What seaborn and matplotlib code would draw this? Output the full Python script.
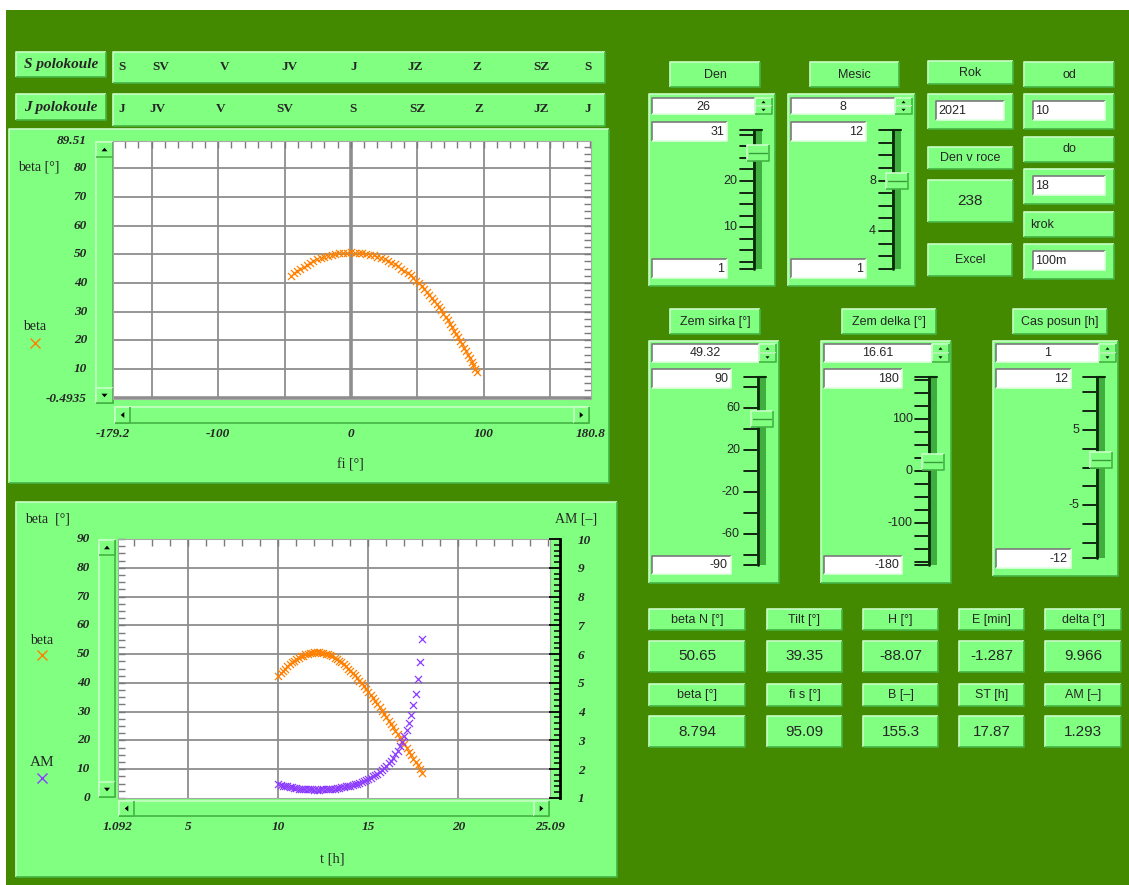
import numpy as np
import pandas as pd
import matplotlib
matplotlib.use("Agg")
import matplotlib.pyplot as plt
import seaborn as sns
from matplotlib.patches import Rectangle, Polygon
from matplotlib.ticker import MultipleLocator
from matplotlib.transforms import blended_transform_factory as blend

# ---- sun path values -----------------------------------------------------
t_h = [10.0, 10.125, 10.25, 10.375, 10.5, 10.625, 10.75, 10.875, 11.0, 11.125, 11.25, 11.375, 11.5,
       11.625, 11.75, 11.875, 12.0, 12.125, 12.25, 12.375, 12.5, 12.625, 12.75, 12.875, 13.0, 13.125,
       13.25, 13.375, 13.5, 13.625, 13.75, 13.875, 14.0, 14.125, 14.25, 14.375, 14.5, 14.625, 14.75,
       14.875, 15.0, 15.125, 15.25, 15.375, 15.5, 15.625, 15.75, 15.875, 16.0, 16.125, 16.25, 16.375,
       16.5, 16.625, 16.75, 16.875, 17.0, 17.125, 17.25, 17.375, 17.5, 17.625, 17.75, 17.875, 18.0]
beta_deg = [42.5, 43.4, 44.2, 45.0, 45.7, 46.4, 47.1, 47.7, 48.2, 48.7, 49.2, 49.5, 49.9,
            50.2, 50.4, 50.5, 50.6, 50.65, 50.6, 50.55, 50.4, 50.2, 49.9, 49.6, 49.2, 48.7,
            48.2, 47.7, 47.1, 46.5, 45.8, 45.0, 44.3, 43.5, 42.6, 41.7, 40.8, 39.9, 38.9,
            37.9, 36.9, 35.9, 34.8, 33.7, 32.6, 31.5, 30.4, 29.3, 28.1, 26.9, 25.8, 24.6,
            23.4, 22.2, 21.0, 19.8, 18.6, 17.4, 16.1, 14.9, 13.7, 12.5, 11.3, 10.0, 8.8]
fi_deg = [-45.0, -42.8, -40.5, -38.1, -35.7, -33.3, -30.7, -28.2, -25.5, -22.8, -20.1, -17.4, -14.6,
          -11.7, -8.8, -6.0, -3.1, -0.1, 2.9, 5.7, 8.6, 11.5, 14.3, 17.1, 19.9, 22.6,
          25.3, 28.0, 30.5, 33.1, 35.5, 38.0, 40.3, 42.6, 44.9, 47.0, 49.2, 51.3, 53.3,
          55.3, 57.2, 59.1, 61.0, 62.8, 64.6, 66.3, 68.0, 69.7, 71.3, 73.0, 74.5, 76.1,
          77.7, 79.2, 80.7, 82.2, 83.7, 85.1, 86.6, 88.0, 89.4, 90.9, 92.3, 93.7, 95.1]
air_mass = [1.48, 1.46, 1.43, 1.42, 1.40, 1.38, 1.37, 1.35, 1.34, 1.33, 1.32, 1.31, 1.31,
            1.30, 1.30, 1.30, 1.29, 1.29, 1.29, 1.30, 1.30, 1.30, 1.31, 1.31, 1.32, 1.33,
            1.34, 1.35, 1.37, 1.38, 1.40, 1.41, 1.43, 1.45, 1.48, 1.50, 1.53, 1.56, 1.59,
            1.63, 1.67, 1.71, 1.75, 1.80, 1.85, 1.91, 1.98, 2.05, 2.12, 2.21, 2.30, 2.40,
            2.52, 2.65, 2.79, 2.95, 3.14, 3.35, 3.60, 3.89, 4.23, 4.63, 5.13, 5.74, 6.53]

# axis tick labels
fi_ticks = [-179.2, -100, 0, 100, 180.8]
beta_ticks_top = [89.51, 80, 70, 60, 50, 40, 30, 20, 10, -0.4935]
t_ticks = [1.092, 5, 10, 15, 20, 25.09]
beta_ticks_bot = [0, 10, 20, 30, 40, 50, 60, 70, 80, 90]
am_ticks = [1, 2, 3, 4, 5, 6, 7, 8, 9, 10]

compass_north = ["S", "SV", "V", "JV", "J", "JZ", "Z", "SZ", "S"]
compass_south = ["J", "JV", "V", "SV", "S", "SZ", "Z", "JZ", "J"]

# readouts
readout_names_1 = ["beta N [°]", "Tilt [°]", "H [°]", "E [min]", "delta [°]"]
readout_vals_1 = ["50.65", "39.35", "-88.07", "-1.287", "9.966"]
readout_names_2 = ["beta [°]", "fi s [°]", "B [–]", "ST [h]", "AM [–]"]
readout_vals_2 = ["8.794", "95.09", "155.3", "17.87", "1.293"]

# input widgets
day, month, year = 26, 8, 2021
day_of_year = 238
t_from, t_to, t_step = "10", "18", "100m"
lat, lon, shift = 49.32, 16.61, 1

df = pd.DataFrame({"t": t_h, "beta": beta_deg, "fi": fi_deg, "AM": air_mass})

#---- look ------------------------------------------------------------------
sns.set_style("white")
SERIF = ["Liberation Serif", "DejaVu Serif"]
SANS = ["Liberation Sans", "DejaVu Sans"]
plt.rcParams["font.family"] = SANS

W, H = 1129, 885
DARK = "#448a00"
LIGHT = "#80ff80"
HI = "#c8ffc8"
SH = "#44b444"
ORANGE = "#ff8000"
PURPLE = "#8c3cff"
GRID = "#8e8e8e"
TICKFONT = dict(family=SERIF, style="italic", weight="bold", fontsize=9.5)
MK = dict(marker="x", s=26, linewidth=0.9, zorder=3)

fig = plt.figure(figsize=(W / 100, H / 100), dpi=100, facecolor="white")
bg = fig.add_axes([0, 0, 1, 1])
bg.set_xlim(0, W)
bg.set_ylim(H, 0)
bg.axis("off")


def px_axes(x0, y0, x1, y1):
    return fig.add_axes([x0 / W, 1 - y1 / H, (x1 - x0) / W, (y1 - y0) / H])


def bevel(x0, y0, x1, y1, light, dark, lw=1.2, z=2):
    bg.plot([x0, x0, x1], [y1, y0, y0], color=light, lw=lw, zorder=z, solid_capstyle="butt")
    bg.plot([x0, x1, x1], [y1, y1, y0], color=dark, lw=lw, zorder=z, solid_capstyle="butt")


def box(x0, y0, x1, y1, fc=LIGHT, z=1):
    bg.add_patch(Rectangle((x0, y0), x1 - x0, y1 - y0, fc=fc, ec="none", zorder=z))
    bevel(x0, y0, x1, y1, HI, SH, z=z + 0.1)


def label(x0, y0, x1, y1, s, size=9, ha="center", z=1):
    box(x0, y0, x1, y1, z=z)
    tx = {"center": (x0 + x1) / 2, "left": x0 + 6}[ha]
    bg.text(tx, (y0 + y1) / 2, s, ha=ha, va="center", fontsize=size, family=SANS, zorder=z + 0.2)


def field(x0, y0, x1, y1, s, ha="right", size=9, z=3):
    bg.add_patch(Rectangle((x0, y0), x1 - x0, y1 - y0, fc="white", ec="none", zorder=z))
    bevel(x0, y0, x1, y1, "#7a7a7a", "#e0ffe0", z=z + 0.1)
    tx = {"right": x1 - 3, "left": x0 + 2, "center": (x0 + x1) / 2}[ha]
    bg.text(tx, (y0 + y1) / 2 + 0.5, s, ha=ha, va="center", fontsize=size, family=SANS, zorder=z + 0.2)


def tri(cx, cy, d, r=3, z=5):
    pts = {"up": [[cx - r, cy + r * 0.6], [cx + r, cy + r * 0.6], [cx, cy - r * 0.6]],
           "down": [[cx - r, cy - r * 0.6], [cx + r, cy - r * 0.6], [cx, cy + r * 0.6]],
           "left": [[cx + r * 0.6, cy - r], [cx + r * 0.6, cy + r], [cx - r * 0.6, cy]],
           "right": [[cx - r * 0.6, cy - r], [cx - r * 0.6, cy + r], [cx + r * 0.6, cy]]}[d]
    bg.add_patch(Polygon(pts, closed=True, fc="black", ec="none", zorder=z))


def spin(x0, y0, x1, y1, s):
    field(x0, y0, x1, y1, s, ha="center")
    ym = (y0 + y1) / 2
    box(x1, y0, x1 + 17, ym, z=3)
    box(x1, ym, x1 + 17, y1, z=3)
    tri(x1 + 8.5, (y0 + ym) / 2, "up", r=2)
    tri(x1 + 8.5, (ym + y1) / 2, "down", r=2)


def slider(tx0, ytop, ybot, vmin, vmax, value, ticks, labels, lab_x):
    def ypos(v):
        return ybot - (v - vmin) / (vmax - vmin) * (ybot - ytop)
    bg.add_patch(Rectangle((tx0, ytop), 9, ybot - ytop, fc="#3fae3f", ec="none", zorder=3))
    bg.plot([tx0 + 1, tx0 + 1], [ytop, ybot], color="#0a2a0a", lw=2, zorder=3.1)
    bg.plot([tx0, tx0 + 9], [ytop, ytop], color="#0a2a0a", lw=1.5, zorder=3.1)
    for v in ticks:
        bg.plot([tx0 - 13, tx0], [ypos(v), ypos(v)], color="black", lw=1.2, zorder=3)
    for v in labels:
        bg.text(lab_x, ypos(v), f"{v:g}", ha="right", va="center", fontsize=9, family=SANS, zorder=3)
    yv = ypos(value)
    box(tx0 - 6, yv - 8, tx0 + 16, yv + 8, z=4)
    bg.plot([tx0 - 4, tx0 + 14], [yv, yv], color="#3c9c3c", lw=1, zorder=4.3)


def vscroll(x0, y0, x1, y1):
    box(x0, y0, x1, y1, z=2)
    box(x0, y0, x1, y0 + 15, z=3)
    box(x0, y1 - 15, x1, y1, z=3)
    tri((x0 + x1) / 2, y0 + 7.5, "up")
    tri((x0 + x1) / 2, y1 - 7.5, "down")


def hscroll(x0, y0, x1, y1):
    box(x0, y0, x1, y1, z=2)
    box(x0, y0, x0 + 15, y1, z=3)
    box(x1 - 15, y0, x1, y1, z=3)
    tri(x0 + 7.5, (y0 + y1) / 2, "left")
    tri(x1 - 7.5, (y0 + y1) / 2, "right")


# background
bg.add_patch(Rectangle((6, 10), W - 6, H - 10, fc=DARK, ec="none", zorder=0))

#---- compass strips ----------------------------------------------------------
compass_x_n = [122, 161, 225, 289, 354, 415, 477, 541, 588]
compass_x_s = [122, 157, 221, 285, 353, 417, 479, 541, 588]
for y0, y1, title, names, xs in [(52, 80, "S polokoule", compass_north, compass_x_n),
                                  (94, 123, "J polokoule", compass_south, compass_x_s)]:
    box(16, y0, 106, y1 - 3)
    bg.text(61, (y0 + y1 - 3) / 2, title, ha="center", va="center", family=SERIF,
            style="italic", weight="bold", fontsize=11, zorder=2)
    box(113, y0, 605, y1 + 3)
    for x, s in zip(xs, names):
        bg.text(x, (y0 + y1) / 2 + 1, s, ha="center", va="center", family=SERIF,
                weight="bold", fontsize=9.5, zorder=2)

#---- top chart: beta vs fi ---------------------------------------------------
box(9, 129, 609, 483)
vscroll(96, 142, 113, 403)
hscroll(115, 407, 589, 423)
bg.text(18, 167, "beta [°]", ha="left", va="center", family=SERIF, fontsize=10, zorder=2)
bg.text(35, 327, "beta", ha="center", va="center", family=SERIF, fontsize=10, zorder=2)
bg.plot([35], [343], marker="x", ms=7, mew=1, color=ORANGE, ls="none", zorder=2)
bg.text(350, 465, "fi [°]", ha="center", va="center", family=SERIF, fontsize=10, zorder=2)

ax1 = px_axes(113, 141, 591, 399)
for v in range(-150, 151, 50):
    ax1.axvline(v, color=GRID, lw=2.6 if v == 0 else 1.3, zorder=0)
for v in range(10, 90, 10):
    ax1.axhline(v, color=GRID, lw=1.3, zorder=0)
ax1.axhline(0, color=GRID, lw=2.6, zorder=0)
sns.scatterplot(data=df, x="fi", y="beta", color=ORANGE, ax=ax1, **MK)
ax1.set_xlim(-179.2, 180.8)
ax1.set_ylim(-0.4935, 89.51)
ax1.set_xlabel("")
ax1.set_ylabel("")
ax1.xaxis.set_major_locator(MultipleLocator(10))
ax1.yaxis.set_major_locator(MultipleLocator(2.5))
ax1.tick_params(which="both", direction="in", length=5, width=1, color="#7a7a7a",
                top=True, right=True, labelbottom=False, labelleft=False)
for sp in ax1.spines.values():
    sp.set_color("#a8a8a8")

ty = blend(bg.transData, ax1.transData)
for v in beta_ticks_top:
    bg.text(87, v, f"{v:g}", transform=ty, ha="right", va="center", zorder=2, **TICKFONT)
tx = blend(ax1.transData, bg.transData)
for v in fi_ticks:
    bg.text(v, 434, f"{v:g}", transform=tx, ha="center", va="center", zorder=2, **TICKFONT)

#---- bottom chart: beta and AM vs t -----------------------------------------
box(16, 502, 617, 877)
vscroll(99, 540, 115, 797)
hscroll(119, 801, 549, 816)
bg.text(25, 519, "beta  [°]", ha="left", va="center", family=SERIF, fontsize=10, zorder=2)
bg.text(576, 519, "AM [–]", ha="center", va="center", family=SERIF, fontsize=10, zorder=2)
bg.text(42, 640, "beta", ha="center", va="center", family=SERIF, fontsize=10, zorder=2)
bg.plot([42], [655], marker="x", ms=7, mew=1, color=ORANGE, ls="none", zorder=2)
bg.text(42, 762, "AM", ha="center", va="center", family=SERIF, fontsize=11, zorder=2)
bg.plot([42], [778], marker="x", ms=7, mew=1, color=PURPLE, ls="none", zorder=2)
bg.text(332, 859, "t [h]", ha="center", va="center", family=SERIF, fontsize=10.5, zorder=2)

ax2 = px_axes(118, 539, 550, 798)
for v in range(5, 25, 5):
    ax2.axvline(v, color=GRID, lw=1.3, zorder=0)
for v in range(10, 90, 10):
    ax2.axhline(v, color=GRID, lw=1.3, zorder=0)
sns.scatterplot(data=df, x="t", y="beta", color=ORANGE, ax=ax2, **MK)
ax2.set_xlim(1.092, 25.09)
ax2.set_ylim(0, 90)
ax2.set_xlabel("")
ax2.set_ylabel("")
ax2.xaxis.set_major_locator(MultipleLocator(1))
ax2.yaxis.set_major_locator(MultipleLocator(2.5))
ax2.tick_params(which="both", direction="in", length=5, width=1, color="#7a7a7a",
                top=True, right=True, labelbottom=False, labelleft=False)
for sp in ax2.spines.values():
    sp.set_color("#a8a8a8")

ax2r = ax2.twinx()
sns.scatterplot(data=df, x="t", y="AM", color=PURPLE, ax=ax2r, **MK)
ax2r.set_ylim(1, 10)
ax2r.set_xlim(1.092, 25.09)
ax2r.set_ylabel("")
ax2r.set_xlabel("")
for k in ["left", "top", "bottom"]:
    ax2r.spines[k].set_visible(False)
ax2r.spines["right"].set_position(("outward", 7))
ax2r.spines["right"].set_color("black")
ax2r.spines["right"].set_linewidth(2)
ax2r.set_yticks(am_ticks)
ax2r.set_yticklabels([str(v) for v in am_ticks], family=SERIF, style="italic",
                     weight="bold", fontsize=9.5)
ax2r.yaxis.set_minor_locator(MultipleLocator(0.2))
ax2r.tick_params(axis="y", which="major", direction="in", length=8, width=1.3,
                 color="black", pad=13)
ax2r.tick_params(axis="y", which="minor", direction="in", length=4.5, width=1.1, color="black")
ax2r.tick_params(axis="x", which="both", bottom=False, top=False, labelbottom=False)

ty2 = blend(bg.transData, ax2.transData)
for v in beta_ticks_bot:
    bg.text(90, v, f"{v:g}", transform=ty2, ha="right", va="center", zorder=2, **TICKFONT)
tx2 = blend(ax2.transData, bg.transData)
for v in t_ticks:
    bg.text(v, 827, f"{v:g}", transform=tx2, ha="center", va="center", zorder=2, **TICKFONT)

#---- date widgets ------------------------------------------------------------
label(670, 62, 760, 87, "Den")
label(810, 62, 899, 87, "Mesic")
label(928, 61, 1013, 84, "Rok")
label(1024, 62, 1114, 87, "od")

box(649, 94, 775, 286)
spin(652, 98, 755, 114, str(day))
field(652, 122, 727, 141, "31")
field(652, 259, 727, 278, "1")
slider(753, 130, 269, 1, 31, day,
       [1, 2.5, 5, 7.5, 10, 12.5, 15, 17.5, 20, 22.5, 25, 27.5, 30, 31], [20, 10], 737)

box(788, 94, 915, 286)
spin(791, 98, 895, 114, str(month))
field(791, 122, 866, 141, "12")
field(791, 259, 866, 278, "1")
slider(892, 130, 269, 1, 12, month, list(range(1, 13)), [8, 4], 876)

box(928, 94, 1013, 129)
field(936, 101, 1004, 120, str(year), ha="left")
box(1024, 94, 1114, 129)
field(1033, 101, 1105, 120, t_from, ha="left")
label(928, 147, 1013, 169, "Den v roce")
label(928, 180, 1013, 222, str(day_of_year), size=11)
label(1024, 137, 1114, 162, "do")
box(1024, 169, 1114, 204)
field(1033, 176, 1105, 195, t_to, ha="left")
label(1024, 212, 1114, 237, "krok", ha="left")
box(1024, 244, 1114, 279)
field(1033, 251, 1105, 270, t_step, ha="left")
label(928, 244, 1012, 276, "Excel")

#---- location widgets --------------------------------------------------------
label(670, 309, 760, 334, "Zem sirka [°]")
label(842, 309, 936, 334, "Zem delka [°]")
label(1013, 309, 1107, 334, "Cas posun [h]")

box(649, 341, 779, 583)
spin(652, 344, 759, 362, f"{lat:g}")
field(652, 369, 731, 388, "90")
field(652, 556, 731, 574, "-90")
slider(757, 377, 565, -90, 90, lat, [-90, -80, -60, -40, -20, 0, 20, 40, 60, 80, 90],
       [60, 20, -20, -60], 740)

box(821, 341, 951, 583)
spin(824, 344, 932, 362, f"{lon:g}")
field(824, 369, 902, 388, "180")
field(824, 556, 902, 574, "-180")
slider(928, 377, 565, -180, 180, lon,
       [-180, -175, -150, -125, -100, -75, -50, -25, 0, 25, 50, 75, 100, 125, 150, 175, 180],
       [100, 0, -100], 913)

box(993, 341, 1118, 576)
spin(996, 344, 1099, 362, f"{shift:g}")
field(996, 369, 1071, 388, "12")
field(996, 549, 1071, 568, "-12")
slider(1096, 377, 558, -12, 12, shift, [-12, -10, -7.5, -5, -2.5, 0, 2.5, 5, 7.5, 10, 12],
       [5, -5], 1079)

#---- readouts ----------------------------------------------------------------
cols = [(649, 745), (767, 842), (863, 938), (959, 1024), (1045, 1121)]
for (x0, x1), n1, v1, n2, v2 in zip(cols, readout_names_1, readout_vals_1,
                                    readout_names_2, readout_vals_2):
    label(x0, 609, x1, 630, n1)
    label(x0, 641, x1, 672, v1, size=11)
    label(x0, 684, x1, 706, n2)
    label(x0, 716, x1, 747, v2, size=11)

fig.savefig("out.png", dpi=100, facecolor="white")
